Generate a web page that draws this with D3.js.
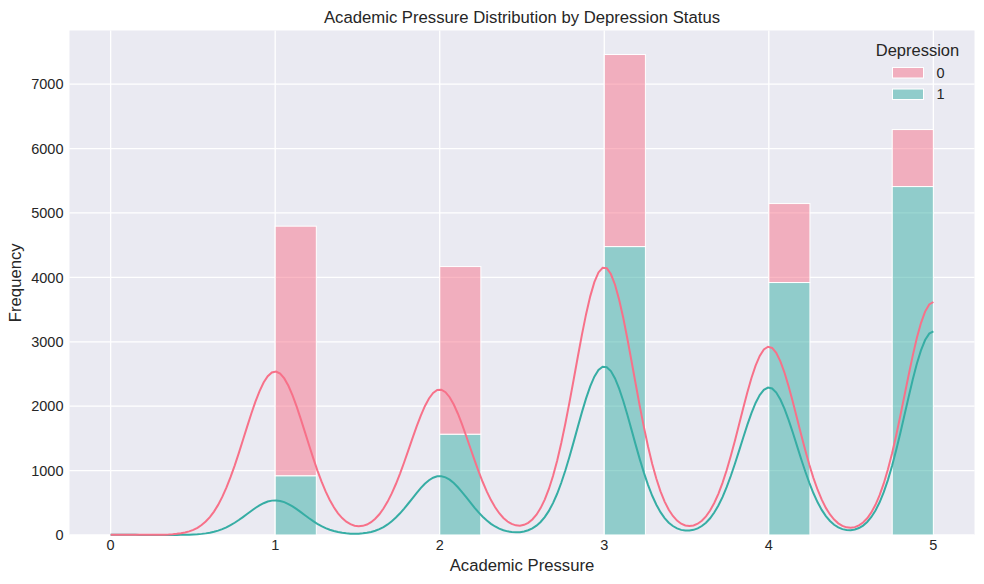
<!DOCTYPE html>
<html>
<head>
<meta charset="utf-8">
<script src="https://cdn.jsdelivr.net/npm/d3@7"></script>
<style>
  body { margin: 0; background: #fff; }
  svg { display: block; font-family: "Liberation Sans", Arial, sans-serif; }
</style>
</head>
<body>
<svg id="chart" width="984" height="584"></svg>
<script>
// Academic Pressure values and counts per depression group
var pressureLevels = [0, 1, 2, 3, 4, 5];
var countsDep0 = [4, 3875, 2603, 2982, 1226, 885];
var countsDep1 = [5, 920, 1565, 4478, 3920, 5410];
var groups = ["0", "1"];
var xTicks = [0, 1, 2, 3, 4, 5];
var yTicks = [0, 1000, 2000, 3000, 4000, 5000, 6000, 7000];

var binWidth = 0.25;
var nBins = 20;

var colors = { "0": "#f77189", "1": "#36ada4" };

var W = 984, H = 584;
var plot = { left: 69.5, right: 974.5, top: 30.5, bottom: 535 };

var svg = d3.select("#chart");

// stacked totals, teal group sits at the bottom
var totals = pressureLevels.map((v, i) => countsDep0[i] + countsDep1[i]);

var x = d3.scaleLinear().domain([-0.25, 5.25]).range([plot.left, plot.right]);
var y = d3.scaleLinear().domain([0, d3.max(totals) * 1.05]).range([plot.bottom, plot.top]);

// background
svg.append("rect")
  .attr("x", plot.left).attr("y", plot.top)
  .attr("width", plot.right - plot.left).attr("height", plot.bottom - plot.top)
  .attr("fill", "#eaeaf2");

// grid
var grid = svg.append("g").attr("stroke", "#fff").attr("stroke-width", 1.3);
xTicks.forEach(t => {
  grid.append("line").attr("x1", x(t)).attr("x2", x(t)).attr("y1", plot.top).attr("y2", plot.bottom);
});
yTicks.forEach(t => {
  grid.append("line").attr("x1", plot.left).attr("x2", plot.right).attr("y1", y(t)).attr("y2", y(t));
});

// bars
function binStart(v) {
  var b = Math.min(Math.floor(v / binWidth), nBins - 1);
  return b * binWidth;
}

var bars = pressureLevels.map((v, i) => ({
  x0: binStart(v),
  dep1: countsDep1[i],
  total: totals[i]
}));

var barG = svg.append("g");
bars.forEach(d => {
  // group 1 (bottom)
  barG.append("rect")
    .attr("x", x(d.x0)).attr("width", x(d.x0 + binWidth) - x(d.x0))
    .attr("y", y(d.dep1)).attr("height", y(0) - y(d.dep1))
    .attr("fill", colors["1"]).attr("fill-opacity", 0.5)
    .attr("stroke", "#fff").attr("stroke-width", 1);
  // group 0 (stacked on top)
  barG.append("rect")
    .attr("x", x(d.x0)).attr("width", x(d.x0 + binWidth) - x(d.x0))
    .attr("y", y(d.total)).attr("height", y(d.dep1) - y(d.total))
    .attr("fill", colors["0"]).attr("fill-opacity", 0.5)
    .attr("stroke", "#fff").attr("stroke-width", 1);
});

// gaussian kde of the grouped data (scott bandwidth), scaled to counts
function kde(counts) {
  var n = d3.sum(counts);
  var mean = d3.sum(pressureLevels, (v, i) => v * counts[i]) / n;
  var ss = d3.sum(pressureLevels, (v, i) => counts[i] * (v - mean) * (v - mean));
  var sd = Math.sqrt(ss / (n - 1));
  var h = sd * Math.pow(n, -0.2);
  var lo = d3.min(pressureLevels.filter((v, i) => counts[i] > 0));
  var hi = d3.max(pressureLevels.filter((v, i) => counts[i] > 0));
  var grid = d3.range(200).map(k => lo + (hi - lo) * k / 199);
  return grid.map(g => {
    var s = 0;
    pressureLevels.forEach((v, i) => {
      var z = (g - v) / h;
      s += counts[i] * Math.exp(-0.5 * z * z) / (h * Math.sqrt(2 * Math.PI));
    });
    return [g, s * binWidth];
  });
}

var kde0 = kde(countsDep0);
var kde1 = kde(countsDep1);
var kdeTop = kde0.map((p, k) => [p[0], p[1] + kde1[k][1]]);

var line = d3.line().x(d => x(d[0])).y(d => y(d[1]));

svg.append("path").datum(kde1)
  .attr("d", line).attr("fill", "none")
  .attr("stroke", colors["1"]).attr("stroke-width", 2);
svg.append("path").datum(kdeTop)
  .attr("d", line).attr("fill", "none")
  .attr("stroke", colors["0"]).attr("stroke-width", 2);

// axes labels
var textColor = "#262626";
var xAxisG = svg.append("g");
xTicks.forEach(t => {
  xAxisG.append("text")
    .attr("x", x(t)).attr("y", 550)
    .attr("text-anchor", "middle")
    .attr("font-size", 14.5).attr("fill", textColor)
    .text(t);
});
var yAxisG = svg.append("g");
yTicks.forEach(t => {
  yAxisG.append("text")
    .attr("x", 63.5).attr("y", y(t) + 5.2)
    .attr("text-anchor", "end")
    .attr("font-size", 14.5).attr("fill", textColor)
    .text(t);
});

svg.append("text")
  .attr("x", (plot.left + plot.right) / 2).attr("y", 571)
  .attr("text-anchor", "middle")
  .attr("font-size", 16.7).attr("fill", textColor)
  .text("Academic Pressure");

svg.append("text")
  .attr("transform", "translate(20.5," + ((plot.top + plot.bottom) / 2) + ") rotate(-90)")
  .attr("text-anchor", "middle")
  .attr("font-size", 16.7).attr("fill", textColor)
  .text("Frequency");

svg.append("text")
  .attr("x", (plot.left + plot.right) / 2).attr("y", 22.5)
  .attr("text-anchor", "middle")
  .attr("font-size", 16.7).attr("fill", textColor)
  .text("Academic Pressure Distribution by Depression Status");

// legend
var legend = svg.append("g");
legend.append("text")
  .attr("x", 917.5).attr("y", 56)
  .attr("text-anchor", "middle")
  .attr("font-size", 16.5).attr("fill", textColor)
  .text("Depression");
groups.forEach((g, i) => {
  var yy = 67.5 + i * 21.5;
  legend.append("rect")
    .attr("x", 892.5).attr("y", yy)
    .attr("width", 31).attr("height", 10.5)
    .attr("fill", colors[g]).attr("fill-opacity", 0.5)
    .attr("stroke", "#fff").attr("stroke-width", 1);
  legend.append("text")
    .attr("x", 936.5).attr("y", yy + 10.2)
    .attr("font-size", 14.5).attr("fill", textColor)
    .text(g);
});
</script>
</body>
</html>
